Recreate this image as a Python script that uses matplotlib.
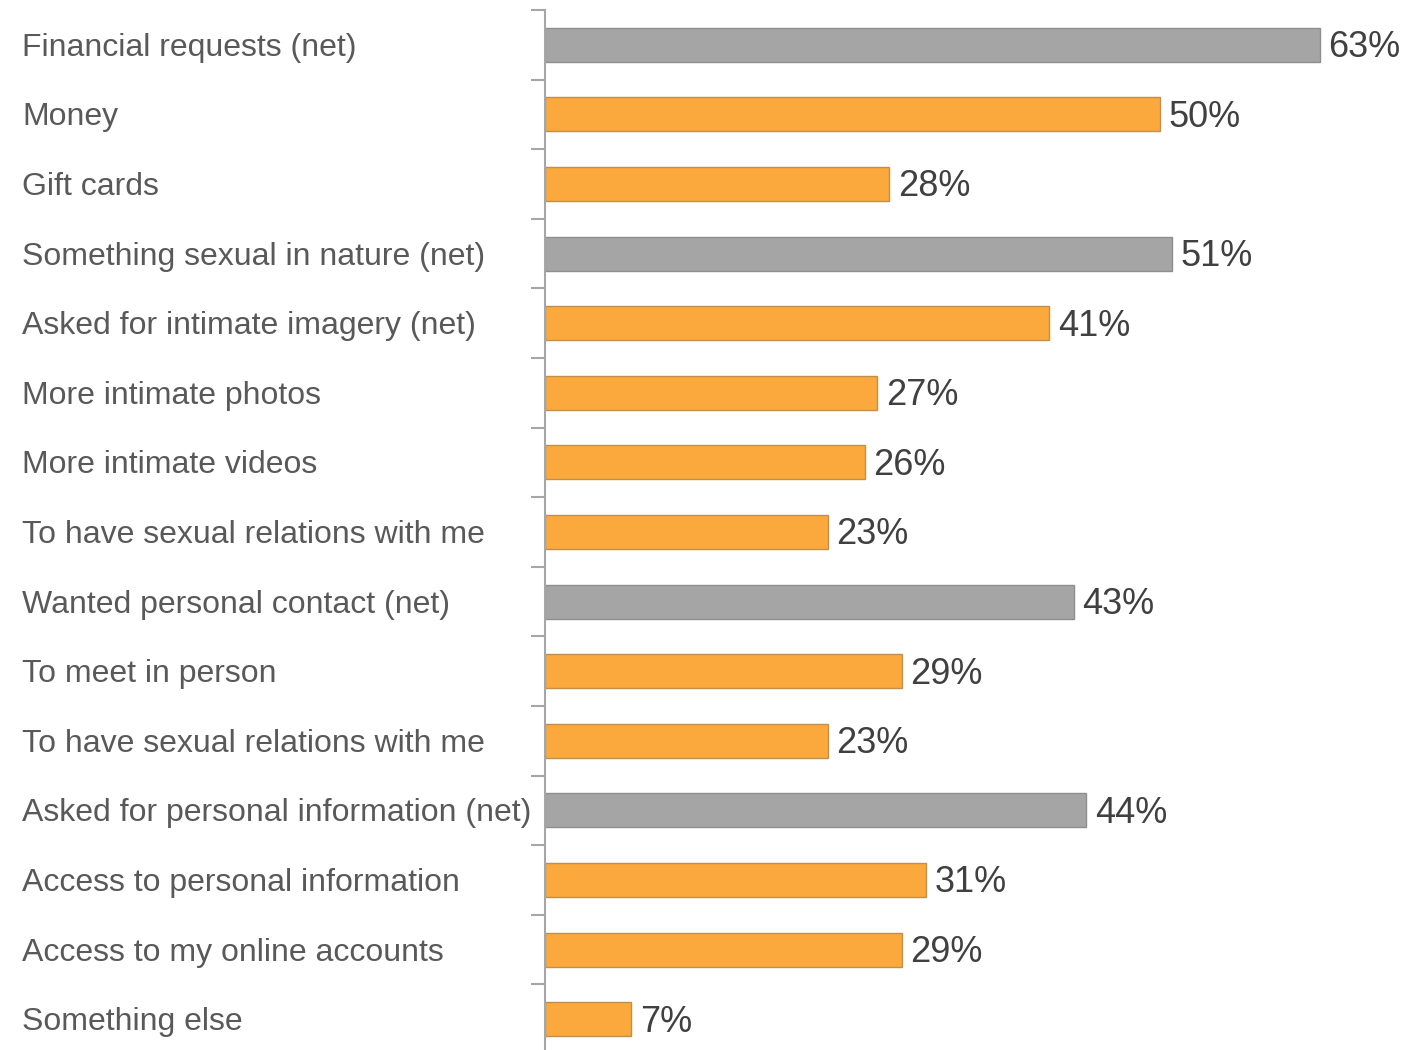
import matplotlib
matplotlib.use("Agg")
import matplotlib.pyplot as plt
from matplotlib.transforms import offset_copy

plt.rcParams['font.family'] = ['Liberation Sans', 'DejaVu Sans']

# Categories top to bottom; "(net)" rows are the grey summary bars
categories = [
    "Financial requests (net)",
    "Money",
    "Gift cards",
    "Something sexual in nature (net)",
    "Asked for intimate imagery (net)",
    "More intimate photos",
    "More intimate videos",
    "To have sexual relations with me",
    "Wanted personal contact (net)",
    "To meet in person",
    "To have sexual relations with me",
    "Asked for personal information (net)",
    "Access to personal information",
    "Access to my online accounts",
    "Something else",
]
values = [63, 50, 28, 51, 41, 27, 26, 23, 43, 29, 23, 44, 31, 29, 7]
is_net = [True, False, False, True, False, False, False, False,
          True, False, False, True, False, False, False]

GREY = "#A5A5A5"
ORANGE = "#FBA93D"
AXIS_GREY = "#A6A6A6"

W, H = 1423, 1050
fig = plt.figure(figsize=(W / 100, H / 100), dpi=100)
# axes box in pixel terms: left edge at the vertical axis line
left_px, top_px, row_px = 545, 10, 69.6
n = len(categories)
ax_h = n * row_px
ax_w = 70 * 12.3
ax = fig.add_axes([left_px / W, (H - top_px - ax_h) / H, ax_w / W, ax_h / H])

y = list(range(n))
colors = [GREY if net else ORANGE for net in is_net]
edges = ["#8E8E8E" if net else "#C0904A" for net in is_net]
ax.barh(y, values, height=0.49, color=colors, edgecolor=edges, linewidth=1.0)

# nudge text a few pixels down so it sits on the bar centre
val_tr = offset_copy(ax.transData, fig=fig, x=0, y=-3, units="dots")
for yi, v in zip(y, values):
    ax.text(v + 0.7, yi, f"{v}%", va="center", ha="left",
            fontsize=26, color="#404040", transform=val_tr)

ax.set_xlim(0, 70)
ax.set_ylim(n - 0.5, -0.5)

# category labels drawn left-aligned at the figure edge
ax.set_yticks([])
lab_tr = offset_copy(fig.transFigure, fig=fig, x=0, y=-3, units="dots")
for yi, lab in zip(y, categories):
    fig.text(22 / W, 1 - (top_px + (yi + 0.5) * row_px) / H, lab,
             ha="left", va="center", fontsize=23, color="#595959",
             transform=lab_tr)

# ticks between categories on the left axis line
ax.set_yticks([i - 0.5 for i in range(n + 1)], minor=True)
ax.tick_params(axis="y", which="minor", length=10, width=1.5, color=AXIS_GREY, direction="out")
ax.set_xticks([])

for s in ["top", "right", "bottom"]:
    ax.spines[s].set_visible(False)
ax.spines["left"].set_color(AXIS_GREY)
ax.spines["left"].set_linewidth(1.5)

fig.savefig("out.png", dpi=100)
